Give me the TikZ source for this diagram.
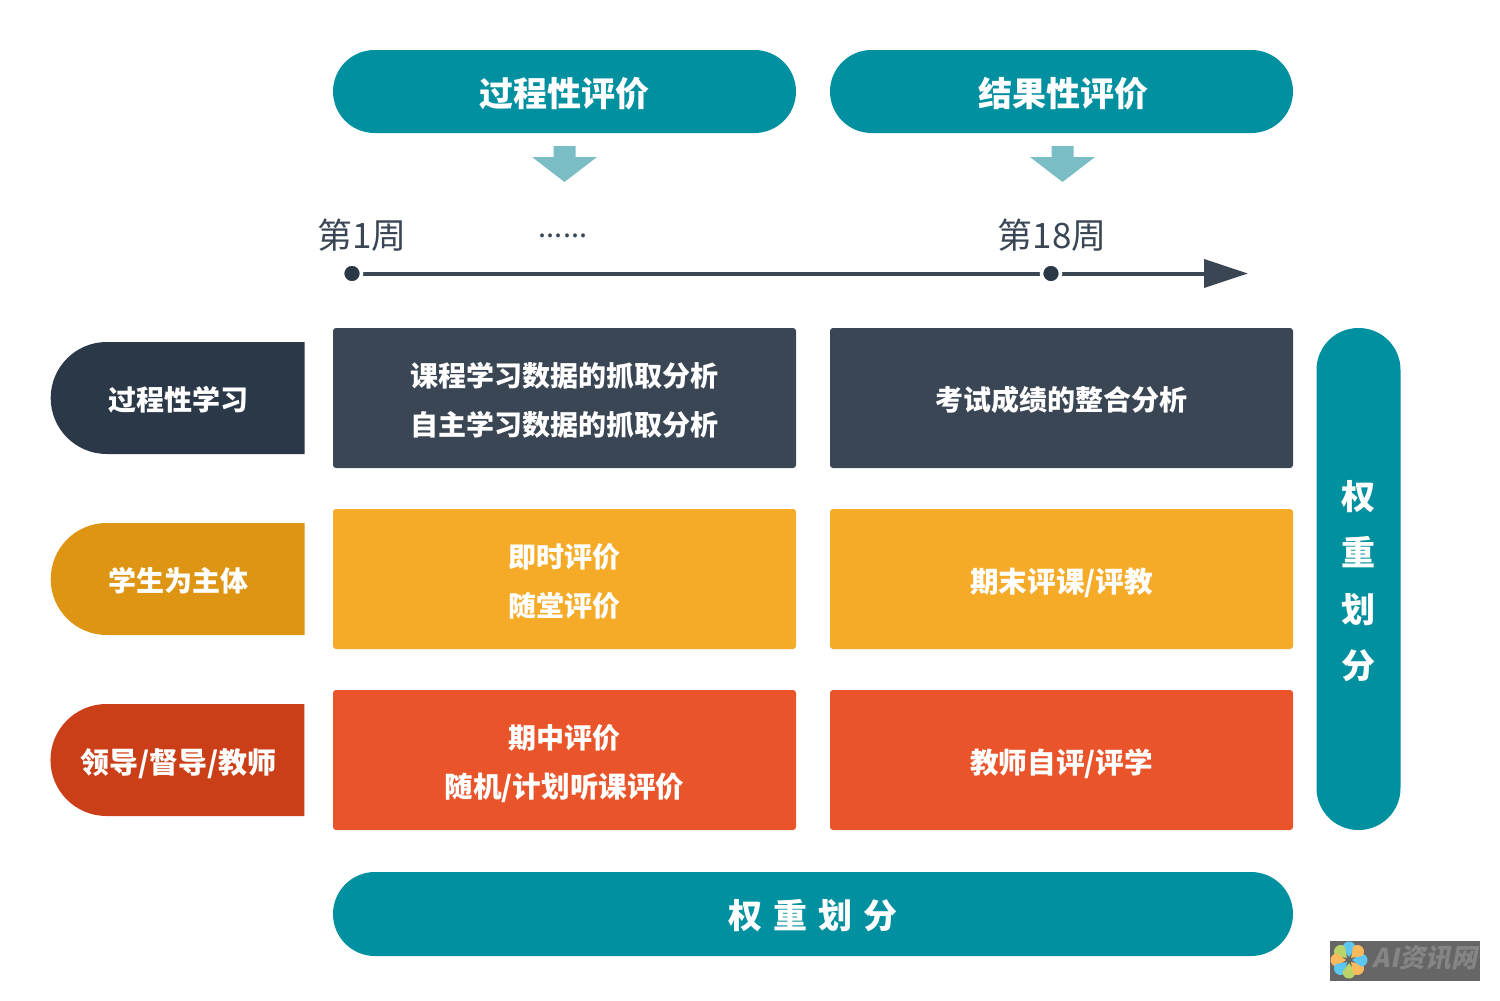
\documentclass[tikz,border=0pt]{standalone}
\usepackage{fontspec}
\setmainfont{Noto Sans CJK SC}
\newfontfamily\wmfont[FakeSlant=0.2]{Noto Sans CJK SC}
\usetikzlibrary{shapes.misc,arrows.meta,backgrounds}
\definecolor{teal1}{HTML}{00909F}
\definecolor{arrowteal}{HTML}{7BBDC5}
\definecolor{slate}{HTML}{3A4654}
\definecolor{slatedark}{HTML}{2B3848}
\definecolor{amber}{HTML}{F5AB27}
\definecolor{amberdark}{HTML}{DE9514}
\definecolor{vermil}{HTML}{E9542A}
\definecolor{vermildark}{HTML}{CB3F18}
\definecolor{wmgrey}{HTML}{666666}
\definecolor{wmtext}{HTML}{858585}
\definecolor{petalblue}{HTML}{5CC8F2}
\definecolor{petalorange}{HTML}{FDBA5C}
\definecolor{petalgreen}{HTML}{B9D56A}
\newcommand{\lo}[1]{\raisebox{-1pt}[\height][\depth]{#1}}
\newcommand{\lob}[1]{\raisebox{-1.9pt}[\height][\depth]{#1}}
\tikzset{
  x=0.5pt,y=-0.5pt,
  pill/.style={rounded rectangle,fill=teal1,text=white,inner sep=0pt,outer sep=0pt,
    minimum width=231.5pt,minimum height=41.5pt,font=\bfseries\fontsize{17}{20}\selectfont},
  cell/.style={rectangle,rounded corners=1.5pt,text=white,inner sep=0pt,outer sep=0pt,align=center,
    minimum width=231.5pt,minimum height=70pt,font=\bfseries\fontsize{14}{24.5}\selectfont},
  slashcell/.style={cell,font=\bfseries\fontsize{14.3}{24.5}\selectfont},
  tag/.style={rounded rectangle,rounded rectangle east arc=none,text=white,inner sep=0pt,outer sep=0pt,
    minimum width=127pt,minimum height=56pt,font=\bfseries\fontsize{14}{17}\selectfont},
  week/.style={text=slate,inner sep=0pt,font=\fontsize{17.5}{20}\selectfont},
  tdot/.style={circle,fill=slatedark,draw=white,line width=1.75pt,minimum size=9.5pt,inner sep=0pt},
  downarrow/.pic={\fill[arrowteal] (-11,-36) -- (11,-36) -- (11,-25) -- (32.5,-25) -- (0,0) -- (-32.5,-25) -- (-11,-25) -- cycle;},
}
\begin{document}
\begin{tikzpicture}
\useasboundingbox (0,0) rectangle (1500,1001);
% header pills
\node[pill] (h1) at (564.5,91.5) {\lo{过程性评价}};
\node[pill] (h2) at (1061.5,91.5) {\hspace{1.5pt}\lo{结果性评价}};
\pic at (564.5,182) {downarrow};
\pic at (1062.5,182) {downarrow};
% timeline
\node[week] (w1) at (362,235) {第1周};
\node[week,font=\fontsize{14.5}{16}\selectfont] (w2) at (563,236) {......};
\node[week] (w3) at (1052,235) {第18周};
\node[tdot] (d1) at (352,273.5) {};
\node[tdot] (d2) at (1051,273.5) {};
\coordinate (tip) at (1248,273.5);
\begin{pgfonlayer}{background}
\draw[slate,line width=2pt,-{Triangle[length=22pt,width=14pt]}] (d1.center) -- (tip);
\end{pgfonlayer}
% row 1
\node[tag,fill=slatedark] (t1) at (178.5,398) {\lo{过程性学习}};
\node[cell,fill=slate] (c11) at (564.5,398) {\lo{课程学习数据的抓取分析}\\\lo{自主学习数据的抓取分析}};
\node[cell,fill=slate] (c12) at (1061.5,398) {\lo{考试成绩的整合分析}};
% row 2
\node[tag,fill=amberdark] (t2) at (178.5,579) {\lo{学生为主体}};
\node[cell,fill=amber] (c21) at (564.5,579) {\lo{即时评价}\\\lo{随堂评价}};
\node[slashcell,fill=amber] (c22) at (1061.5,579) {\lob{期末评课/评教}};
% row 3
\node[tag,fill=vermildark,font=\bfseries\fontsize{14.5}{17}\selectfont] (t3) at (178.5,760) {\lob{领导/督导/教师}};
\node[cell,fill=vermil] (c31) at (564.5,760) {\lob{期中评价}\\\lob{\fontsize{14.3}{24.5}\selectfont 随机/计划听课评价}};
\node[slashcell,fill=vermil] (c32) at (1061.5,760) {\lob{教师自评/评学}};
% side and bottom pills
\node[rectangle,rounded corners=20.9pt,fill=teal1,text=white,inner sep=0pt,outer sep=0pt,
  minimum width=42pt,minimum height=251pt,align=center,
  font=\bfseries\fontsize{17}{28.15}\selectfont] (side) at (1358.5,579) {\lo{权}\\\lo{重}\\\lo{划}\\\lo{分}};
\node[pill,minimum width=480pt,minimum height=42pt] (bottom) at (813,914) {\lo{权\hspace{5.5pt}重\hspace{5.5pt}划\hspace{5.5pt}分}};
% watermark
\fill[wmgrey] (1330,941) rectangle (1480,981);
\begin{scope}[shift={(1349,960)}]
\foreach \a/\c in {0/petalblue,45/petalgreen,90/petalorange,135/petalblue,180/petalgreen,225/petalorange,270/petalblue,315/petalorange}{
  \begin{scope}[rotate=\a]
  \fill[\c] (0,-3) -- (-6.5,-12) arc[start angle=180,end angle=360,radius=6.5] -- cycle;
  \end{scope}
}
\end{scope}
\node[text=wmtext,inner sep=0pt,font=\wmfont\bfseries\fontsize{13}{14}\selectfont] (wm) at (1425,958) {AI资讯网};
\end{tikzpicture}
\end{document}
